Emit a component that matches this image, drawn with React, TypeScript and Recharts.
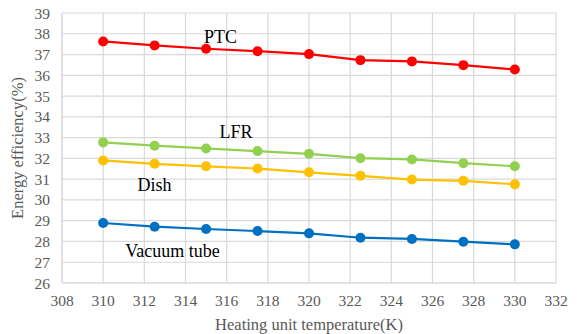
import { LineChart, Line, XAxis, YAxis, CartesianGrid, ReferenceDot } from "recharts";

// heating unit temperature (K)
const temps = [310, 312.5, 315, 317.5, 320, 322.5, 325, 327.5, 330];

// energy efficiency (%) per collector type
const ptc = [37.63, 37.44, 37.28, 37.16, 37.02, 36.73, 36.67, 36.49, 36.28];
const lfr = [32.77, 32.61, 32.48, 32.35, 32.22, 32.01, 31.95, 31.77, 31.62];
const dish = [31.9, 31.74, 31.62, 31.51, 31.33, 31.16, 30.98, 30.92, 30.75];
const vacuumTube = [28.89, 28.71, 28.6, 28.5, 28.39, 28.18, 28.12, 27.99, 27.86];

const xTicks = [308, 310, 312, 314, 316, 318, 320, 322, 324, 326, 328, 330, 332];
const yTicks = [26, 27, 28, 29, 30, 31, 32, 33, 34, 35, 36, 37, 38, 39];

const data = temps.map((t, i) => ({
  t,
  ptc: ptc[i],
  lfr: lfr[i],
  dish: dish[i],
  vacuumTube: vacuumTube[i],
}));

const series = [
  { key: "ptc", color: "#FF0000" },
  { key: "lfr", color: "#92D050" },
  { key: "dish", color: "#FFC000" },
  { key: "vacuumTube", color: "#0070C0" },
];

// series names written inside the plot
const seriesLabels = [
  { text: "PTC", x: 315.7, y: 37.84 },
  { text: "LFR", x: 316.45, y: 33.3 },
  { text: "Dish", x: 312.5, y: 30.74 },
  { text: "Vacuum tube", x: 313.37, y: 27.55 },
];

const serif = "Liberation Serif";
const tickStyle = { fill: "#595959", fontSize: 15.5, fontFamily: serif };

const App = () => {
  return (
    <div style={{ position: "absolute", left: 0, top: 0, background: "#fff", fontFamily: serif }}>
      <LineChart
        width={580}
        height={334}
        data={data}
        margin={{ top: 13, right: 24, left: 0, bottom: 0 }}
        style={{ fontFamily: serif }}
      >
        <CartesianGrid stroke="#D9D9D9" strokeWidth={1.2} />
        <XAxis
          dataKey="t"
          type="number"
          domain={[308, 332]}
          ticks={xTicks}
          interval={0}
          height={51}
          tickLine={false}
          tickSize={0}
          tickMargin={12}
          axisLine={{ stroke: "#D9D9D9", strokeWidth: 1.2 }}
          tick={tickStyle}
          label={{
            value: "Heating unit temperature(K)",
            position: "insideBottom",
            offset: 4,
            fill: "#595959",
            fontSize: 16.5,
            fontFamily: serif,
          }}
        />
        <YAxis
          type="number"
          domain={[26, 39]}
          ticks={yTicks}
          interval={0}
          width={62}
          tickLine={false}
          tickSize={0}
          tickMargin={12}
          axisLine={{ stroke: "#D9D9D9", strokeWidth: 1.2 }}
          tick={tickStyle}
          label={{
            value: "Energy efficiency(%)",
            angle: -90,
            position: "insideLeft",
            offset: 17,
            fill: "#595959",
            fontSize: 16.5,
            fontFamily: serif,
            style: { textAnchor: "middle" },
          }}
        />
        {series.map((s) => (
          <Line
            key={s.key}
            dataKey={s.key}
            type="linear"
            stroke={s.color}
            strokeWidth={2.2}
            dot={{ r: 5, fill: s.color, stroke: s.color, strokeWidth: 0 }}
            activeDot={false}
            isAnimationActive={false}
          />
        ))}
        {seriesLabels.map((l) => (
          <ReferenceDot
            key={l.text}
            x={l.x}
            y={l.y}
            r={0}
            fill="none"
            stroke="none"
            label={{
              value: l.text,
              position: "center",
              fill: "#000",
              fontSize: 18,
              fontFamily: serif,
            }}
          />
        ))}
      </LineChart>
    </div>
  );
};

export default App;
